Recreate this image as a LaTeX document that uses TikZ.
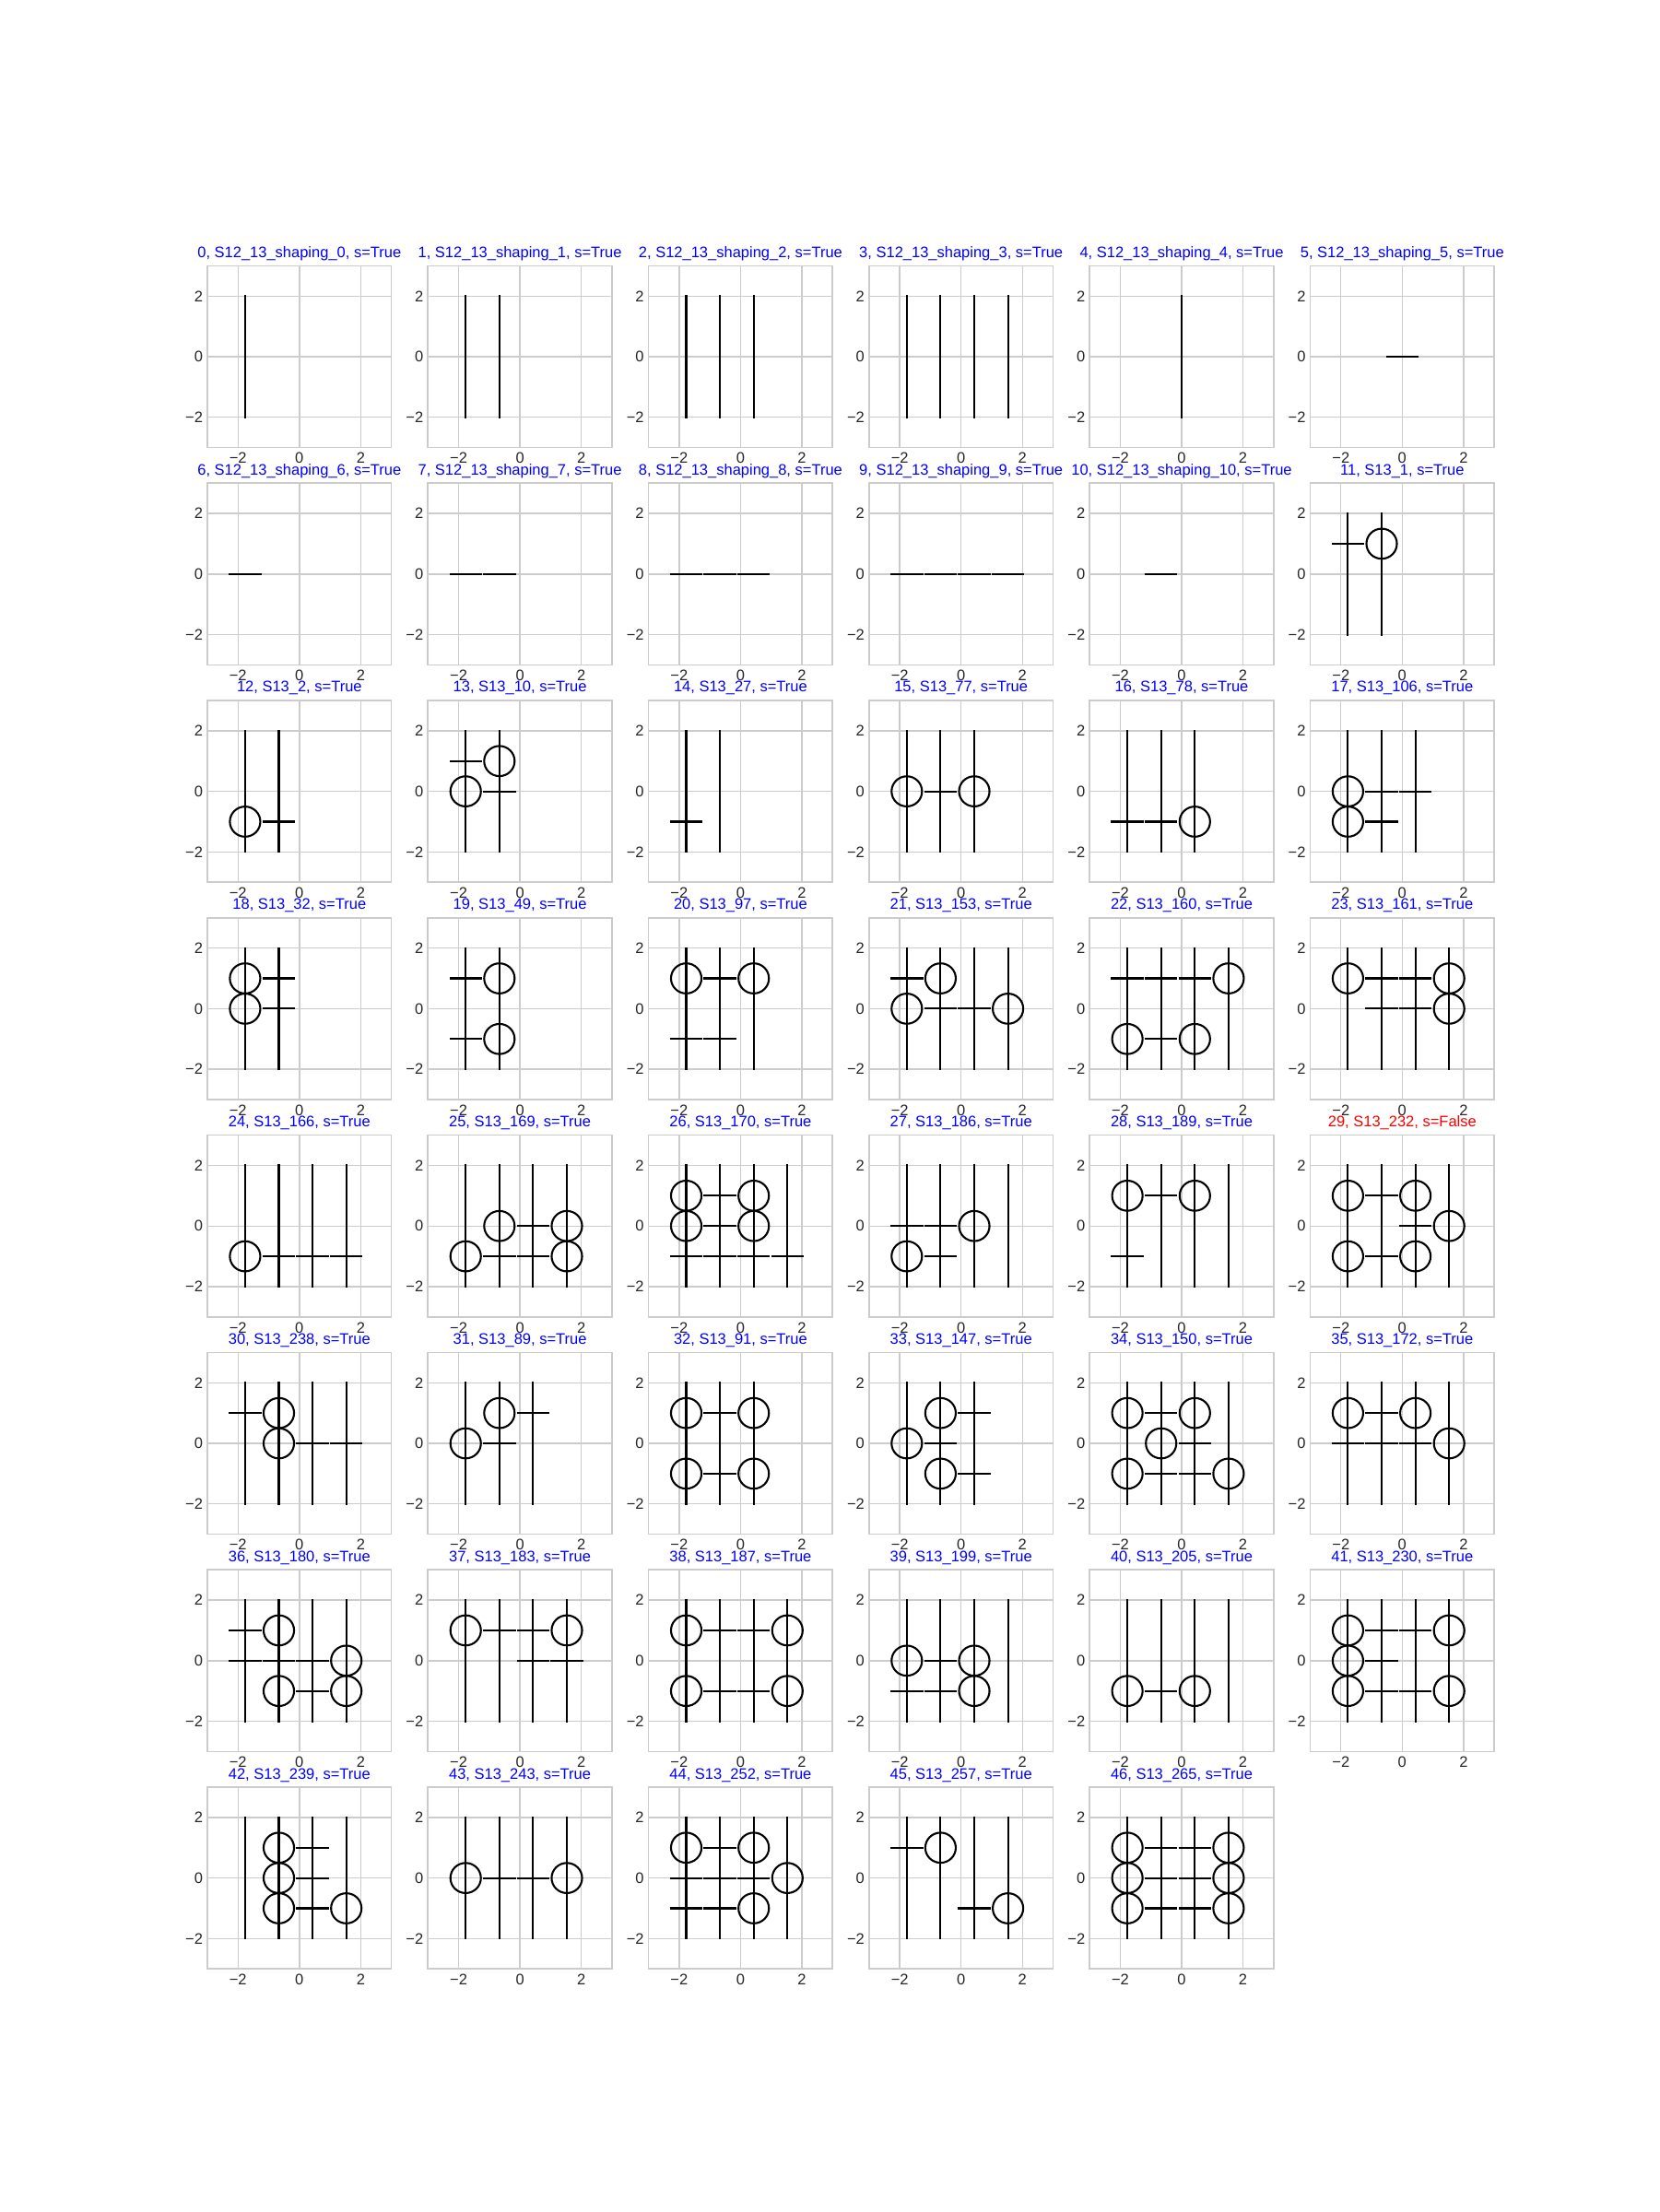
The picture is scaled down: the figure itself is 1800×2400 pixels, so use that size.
\documentclass[tikz,border=0pt]{standalone}
\usepackage{fontspec}
\setmainfont{Liberation Sans}
\definecolor{gridc}{HTML}{CCCCCC}
\definecolor{tickc}{HTML}{262626}
\tikzset{
  wire/.style={line width=2.1pt, black, line cap=rect},
  gridl/.style={draw=gridc, line width=1.4pt},
  axframe/.style={draw=gridc, line width=1.7pt},
  ticklab/.style={text=tickc, font=\fontsize{16.5}{19}\selectfont, inner sep=0pt},
  ttl/.style={font=\fontsize{16.5}{19}\selectfont, inner sep=0pt, anchor=base},
}
\newcommand\wires[1]{\foreach \i in {#1}{\draw[wire] ({-1.77+1.1*\i},-2) -- ({-1.77+1.1*\i},2);}}
\newcommand\sg[2]{\draw[wire] ({-1.77+1.1*#1-0.5},#2) -- ({-1.77+1.1*#1+0.5},#2);}
\newcommand\cc[2]{\draw[wire] ({-1.77+1.1*#1},#2) circle[radius=0.497];}
\newcommand\panel[6]{%
  \begin{scope}[shift={({225+239.3*#2+99.8},{288.4+235.8*#3+98.6})}, x=33.27pt, y=32.87pt]
    \foreach \v in {-2,0,2}{\draw[gridl] (\v,-3) -- (\v,3); \draw[gridl] (-3,\v) -- (3,\v);}
    #6
    \draw[axframe] (-3,-3) rectangle (3,3);
    \node[ttl, text=#5] (title#1) at (0,3.274) {#4};
    \foreach \v/\lab/\k in {-2/{−2}/a, 0/0/b, 2/2/c}{
      \node[ticklab, anchor=east] (yl#1\k) at (-3.145,\v) {\lab};
      \node[ticklab, anchor=north] (xl#1\k) at (\v,-3.17) {\lab};
    }
  \end{scope}}
\begin{document}
\begin{tikzpicture}[x=1pt,y=-1pt]
\fill[white] (0,0) rectangle (1800,2400);
\useasboundingbox (0,0) rectangle (1800,2400);
% row 0
\panel{0}{0}{0}{0, S12\_13\_shaping\_0, s=True}{blue}{\wires{0}}
\panel{1}{1}{0}{1, S12\_13\_shaping\_1, s=True}{blue}{\wires{0,1}}
\panel{2}{2}{0}{2, S12\_13\_shaping\_2, s=True}{blue}{\wires{0,1,2}}
\panel{3}{3}{0}{3, S12\_13\_shaping\_3, s=True}{blue}{\wires{0,1,2,3}}
\panel{4}{4}{0}{4, S12\_13\_shaping\_4, s=True}{blue}{\draw[wire] (0,-2) -- (0,2);}
\panel{5}{5}{0}{5, S12\_13\_shaping\_5, s=True}{blue}{\draw[wire] (-0.5,0) -- (0.5,0);}
% row 1
\panel{6}{0}{1}{6, S12\_13\_shaping\_6, s=True}{blue}{\sg{0}{0}}
\panel{7}{1}{1}{7, S12\_13\_shaping\_7, s=True}{blue}{\sg{0}{0}\sg{1}{0}}
\panel{8}{2}{1}{8, S12\_13\_shaping\_8, s=True}{blue}{\sg{0}{0}\sg{1}{0}\sg{2}{0}}
\panel{9}{3}{1}{9, S12\_13\_shaping\_9, s=True}{blue}{\sg{0}{0}\sg{1}{0}\sg{2}{0}\sg{3}{0}}
\panel{10}{4}{1}{10, S12\_13\_shaping\_10, s=True}{blue}{\sg{1}{0}}
\panel{11}{5}{1}{11, S13\_1, s=True}{blue}{\wires{0,1}\sg{0}{1}\cc{1}{1}}
% row 2
\panel{12}{0}{2}{12, S13\_2, s=True}{blue}{\wires{0,1}\cc{0}{-1}\sg{1}{-1}}
\panel{13}{1}{2}{13, S13\_10, s=True}{blue}{\wires{0,1}\sg{0}{1}\cc{1}{1}\cc{0}{0}\sg{1}{0}}
\panel{14}{2}{2}{14, S13\_27, s=True}{blue}{\wires{0,1}\sg{0}{-1}}
\panel{15}{3}{2}{15, S13\_77, s=True}{blue}{\wires{0,1,2}\cc{0}{0}\sg{1}{0}\cc{2}{0}}
\panel{16}{4}{2}{16, S13\_78, s=True}{blue}{\wires{0,1,2}\sg{0}{-1}\sg{1}{-1}\cc{2}{-1}}
\panel{17}{5}{2}{17, S13\_106, s=True}{blue}{\wires{0,1,2}\cc{0}{0}\sg{1}{0}\sg{2}{0}\cc{0}{-1}\sg{1}{-1}}
% row 3
\panel{18}{0}{3}{18, S13\_32, s=True}{blue}{\wires{0,1}\cc{0}{1}\sg{1}{1}\cc{0}{0}\sg{1}{0}}
\panel{19}{1}{3}{19, S13\_49, s=True}{blue}{\wires{0,1}\sg{0}{1}\cc{1}{1}\sg{0}{-1}\cc{1}{-1}}
\panel{20}{2}{3}{20, S13\_97, s=True}{blue}{\wires{0,1,2}\cc{0}{1}\sg{1}{1}\cc{2}{1}\sg{0}{-1}\sg{1}{-1}}
\panel{21}{3}{3}{21, S13\_153, s=True}{blue}{\wires{0,1,2,3}\sg{0}{1}\cc{1}{1}\cc{0}{0}\sg{1}{0}\sg{2}{0}\cc{3}{0}}
\panel{22}{4}{3}{22, S13\_160, s=True}{blue}{\wires{0,1,2,3}\sg{0}{1}\sg{1}{1}\sg{2}{1}\cc{3}{1}\cc{0}{-1}\sg{1}{-1}\cc{2}{-1}}
\panel{23}{5}{3}{23, S13\_161, s=True}{blue}{\wires{0,1,2,3}\cc{0}{1}\sg{1}{1}\sg{2}{1}\cc{3}{1}\sg{1}{0}\sg{2}{0}\cc{3}{0}}
% row 4
\panel{24}{0}{4}{24, S13\_166, s=True}{blue}{\wires{0,1,2,3}\cc{0}{-1}\sg{1}{-1}\sg{2}{-1}\sg{3}{-1}}
\panel{25}{1}{4}{25, S13\_169, s=True}{blue}{\wires{0,1,2,3}\cc{1}{0}\sg{2}{0}\cc{3}{0}\cc{0}{-1}\sg{1}{-1}\sg{2}{-1}\cc{3}{-1}}
\panel{26}{2}{4}{26, S13\_170, s=True}{blue}{\wires{0,1,2,3}\cc{0}{1}\sg{1}{1}\cc{2}{1}\cc{0}{0}\sg{1}{0}\cc{2}{0}\sg{0}{-1}\sg{1}{-1}\sg{2}{-1}\sg{3}{-1}}
\panel{27}{3}{4}{27, S13\_186, s=True}{blue}{\wires{0,1,2,3}\sg{0}{0}\sg{1}{0}\cc{2}{0}\cc{0}{-1}\sg{1}{-1}}
\panel{28}{4}{4}{28, S13\_189, s=True}{blue}{\wires{0,1,2,3}\cc{0}{1}\sg{1}{1}\cc{2}{1}\sg{0}{-1}}
\panel{29}{5}{4}{29, S13\_232, s=False}{red}{\wires{0,1,2,3}\cc{0}{1}\sg{1}{1}\cc{2}{1}\sg{2}{0}\cc{3}{0}\cc{0}{-1}\sg{1}{-1}\cc{2}{-1}}
% row 5
\panel{30}{0}{5}{30, S13\_238, s=True}{blue}{\wires{0,1,2,3}\sg{0}{1}\cc{1}{1}\cc{1}{0}\sg{2}{0}\sg{3}{0}}
\panel{31}{1}{5}{31, S13\_89, s=True}{blue}{\wires{0,1,2}\cc{1}{1}\sg{2}{1}\cc{0}{0}\sg{1}{0}}
\panel{32}{2}{5}{32, S13\_91, s=True}{blue}{\wires{0,1,2}\cc{0}{1}\sg{1}{1}\cc{2}{1}\cc{0}{-1}\sg{1}{-1}\cc{2}{-1}}
\panel{33}{3}{5}{33, S13\_147, s=True}{blue}{\wires{0,1,2}\cc{1}{1}\sg{2}{1}\cc{0}{0}\sg{1}{0}\cc{1}{-1}\sg{2}{-1}}
\panel{34}{4}{5}{34, S13\_150, s=True}{blue}{\wires{0,1,2,3}\cc{0}{1}\sg{1}{1}\cc{2}{1}\cc{1}{0}\sg{2}{0}\cc{0}{-1}\sg{1}{-1}\sg{2}{-1}\cc{3}{-1}}
\panel{35}{5}{5}{35, S13\_172, s=True}{blue}{\wires{0,1,2,3}\cc{0}{1}\sg{1}{1}\cc{2}{1}\sg{0}{0}\sg{1}{0}\sg{2}{0}\cc{3}{0}}
% row 6
\panel{36}{0}{6}{36, S13\_180, s=True}{blue}{\wires{0,1,2,3}\sg{0}{1}\cc{1}{1}\sg{0}{0}\sg{1}{0}\sg{2}{0}\cc{3}{0}\cc{1}{-1}\sg{2}{-1}\cc{3}{-1}}
\panel{37}{1}{6}{37, S13\_183, s=True}{blue}{\wires{0,1,2,3}\cc{0}{1}\sg{1}{1}\sg{2}{1}\cc{3}{1}\sg{2}{0}\sg{3}{0}}
\panel{38}{2}{6}{38, S13\_187, s=True}{blue}{\wires{0,1,2,3}\cc{0}{1}\sg{1}{1}\sg{2}{1}\cc{3}{1}\cc{0}{-1}\sg{1}{-1}\sg{2}{-1}\cc{3}{-1}}
\panel{39}{3}{6}{39, S13\_199, s=True}{blue}{\wires{0,1,2,3}\cc{0}{0}\sg{1}{0}\cc{2}{0}\sg{0}{-1}\sg{1}{-1}\cc{2}{-1}}
\panel{40}{4}{6}{40, S13\_205, s=True}{blue}{\wires{0,1,2,3}\cc{0}{-1}\sg{1}{-1}\cc{2}{-1}}
\panel{41}{5}{6}{41, S13\_230, s=True}{blue}{\wires{0,1,2,3}\cc{0}{1}\sg{1}{1}\sg{2}{1}\cc{3}{1}\cc{0}{0}\sg{1}{0}\cc{0}{-1}\sg{1}{-1}\sg{2}{-1}\cc{3}{-1}}
% row 7
\panel{42}{0}{7}{42, S13\_239, s=True}{blue}{\wires{0,1,2,3}\cc{1}{1}\sg{2}{1}\cc{1}{0}\sg{2}{0}\cc{1}{-1}\sg{2}{-1}\cc{3}{-1}}
\panel{43}{1}{7}{43, S13\_243, s=True}{blue}{\wires{0,1,2,3}\cc{0}{0}\sg{1}{0}\sg{2}{0}\cc{3}{0}}
\panel{44}{2}{7}{44, S13\_252, s=True}{blue}{\wires{0,1,2,3}\cc{0}{1}\sg{1}{1}\cc{2}{1}\sg{0}{0}\sg{1}{0}\sg{2}{0}\cc{3}{0}\sg{0}{-1}\sg{1}{-1}\cc{2}{-1}}
\panel{45}{3}{7}{45, S13\_257, s=True}{blue}{\wires{0,1,2,3}\sg{0}{1}\cc{1}{1}\sg{2}{-1}\cc{3}{-1}}
\panel{46}{4}{7}{46, S13\_265, s=True}{blue}{\wires{0,1,2,3}\cc{0}{1}\sg{1}{1}\sg{2}{1}\cc{3}{1}\cc{0}{0}\sg{1}{0}\sg{2}{0}\cc{3}{0}\cc{0}{-1}\sg{1}{-1}\sg{2}{-1}\cc{3}{-1}}
\end{tikzpicture}
\end{document}
